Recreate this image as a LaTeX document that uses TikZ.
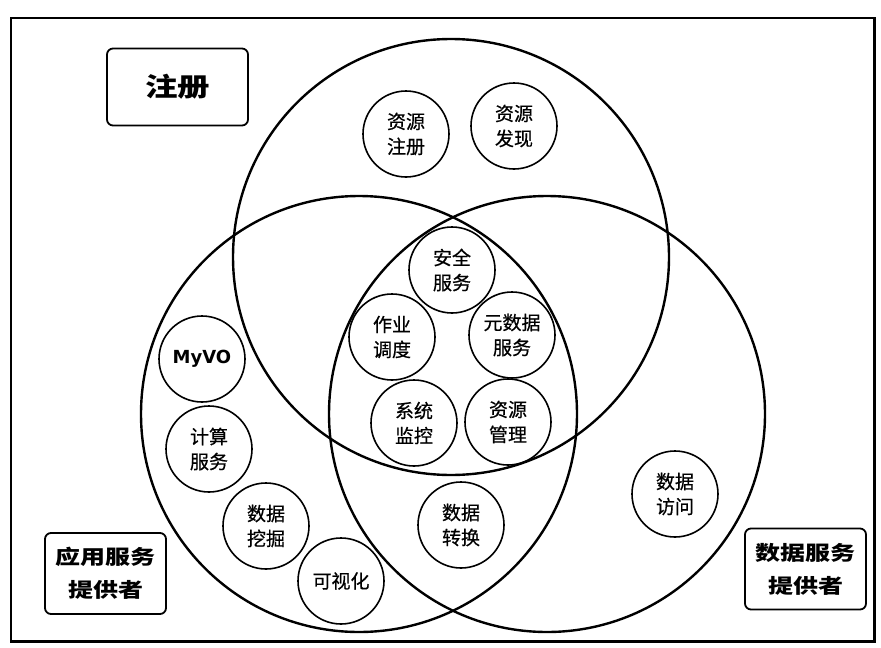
\documentclass[tikz,border=0pt]{standalone}
\usepackage{fontspec}
\newfontfamily\cjk{Noto Sans CJK SC}[FakeBold=0.6]
\newfontfamily\cjkhead{Noto Sans CJK SC}[FakeStretch=1.25]
\newfontfamily\latinsans{DejaVu Sans}
\tikzset{
  bigc/.style={circle, draw, line width=2.4pt, minimum size=436pt, inner sep=0pt},
  smallc/.style={circle, draw, line width=1.6pt, minimum size=86pt, inner sep=0pt, align=center,
    font=\cjk\fontsize{19}{25}\selectfont},
  rolebox/.style={draw, rounded corners=6pt, line width=1.8pt, align=center, inner sep=0pt},
  frame/.style={draw, line width=1.5pt, inner sep=0pt, anchor=north west}
}
\begin{document}
\begin{tikzpicture}[x=1pt,y=-1pt]
\useasboundingbox (0,0) rectangle (881,648);
% outer frame
\node[frame, minimum width=863pt, minimum height=623pt] (frm) at (10,17) {};
\draw[line width=3.2pt] (frm.north east) -- (frm.south east) -- (frm.south west);
% three big circles
\node[bigc] (regc) at (451,257) {};
\node[bigc] (appc) at (359,414) {};
\node[bigc] (datc) at (547,414) {};
% role boxes
\node[rolebox, minimum width=141pt, minimum height=77pt,
  font=\cjkhead\bfseries\fontsize{26}{30}\selectfont] (reg) at (177.5,87) {注册};
\node[rolebox, minimum width=121pt, minimum height=81pt,
  font=\cjkhead\bfseries\fontsize{20}{33}\selectfont] (app) at (105.5,573.5) {应用服务\\提供者};
\node[rolebox, minimum width=121pt, minimum height=81pt,
  font=\cjkhead\bfseries\fontsize{20}{33}\selectfont] (dsp) at (805.5,569) {数据服务\\提供者};
% small circles
\node[smallc] (zczc) at (406,134) {资源\\注册};
\node[smallc] (zyfx) at (514,126) {资源\\发现};
\node[smallc] (aqfw) at (452,270) {安全\\服务};
\node[smallc] (zydd) at (392,337) {作业\\调度};
\node[smallc] (ysj) at (512,335) {元数据\\服务};
\node[smallc] (xtjk) at (414,423) {系统\\监控};
\node[smallc] (zygl) at (508,422) {资源\\管理};
\node[smallc, font=\latinsans\bfseries\fontsize{18}{22}\selectfont] (myvo) at (202,359) {MyVO};
\node[smallc] (jsfw) at (209,449) {计算\\服务};
\node[smallc] (sjwj) at (266,526) {数据\\挖掘};
\node[smallc] (ksh) at (341,581) {可视化};
\node[smallc] (sjzh) at (461,525) {数据\\转换};
\node[smallc] (sjfw) at (675,494) {数据\\访问};
\end{tikzpicture}
\end{document}
